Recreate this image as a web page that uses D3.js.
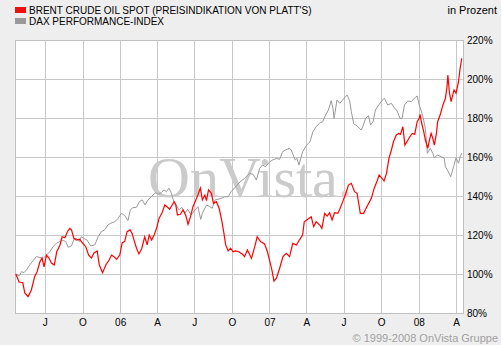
<!DOCTYPE html>
<html><head><meta charset="utf-8">
<script src="https://cdn.jsdelivr.net/npm/d3@7"></script>
<style>html,body{margin:0;padding:0;background:#eeeeee;}svg{display:block;}</style>
</head><body>
<svg id="c" width="501" height="345"></svg>
<script>
const seriesNames = ["BRENT CRUDE OIL SPOT (PREISINDIKATION VON PLATT'S)", "DAX PERFORMANCE-INDEX"];
const xTickLabels = ["J","O","06","A","J","O","07","A","J","O","08","A"];
const yTicks = [80,100,120,140,160,180,200,220];
const yTickLabels = ["80%","100%","120%","140%","160%","180%","200%","220%"];

const brentDates = ["2005-04-21","2005-04-29","2005-05-08","2005-05-13","2005-05-21","2005-05-29","2005-06-06","2005-06-12","2005-06-19","2005-06-24","2005-06-29","2005-07-05","2005-07-11","2005-07-17","2005-07-24","2005-07-30","2005-08-07","2005-08-12","2005-08-19","2005-08-25","2005-08-31","2005-09-04","2005-09-10","2005-09-16","2005-09-24","2005-10-01","2005-10-09","2005-10-16","2005-10-23","2005-10-29","2005-11-06","2005-11-11","2005-11-19","2005-11-27","2005-12-05","2005-12-11","2005-12-17","2005-12-23","2005-12-31","2006-01-06","2006-01-12","2006-01-18","2006-01-25","2006-01-30","2006-02-04","2006-02-10","2006-02-16","2006-02-23","2006-03-02","2006-03-08","2006-03-13","2006-03-19","2006-03-25","2006-03-31","2006-04-06","2006-04-13","2006-04-20","2006-04-27","2006-05-02","2006-05-08","2006-05-13","2006-05-17","2006-05-21","2006-05-28","2006-06-04","2006-06-10","2006-06-16","2006-06-22","2006-06-28","2006-07-05","2006-07-10","2006-07-16","2006-07-21","2006-07-27","2006-07-31","2006-08-05","2006-08-12","2006-08-17","2006-08-24","2006-08-31","2006-09-06","2006-09-11","2006-09-16","2006-09-22","2006-09-28","2006-10-04","2006-10-10","2006-10-18","2006-10-27","2006-11-01","2006-11-08","2006-11-12","2006-11-18","2006-11-26","2006-12-02","2006-12-10","2006-12-20","2006-12-27","2007-01-02","2007-01-07","2007-01-12","2007-01-18","2007-01-26","2007-02-03","2007-02-11","2007-02-19","2007-02-27","2007-03-08","2007-03-15","2007-03-23","2007-03-27","2007-04-07","2007-04-13","2007-04-19","2007-04-25","2007-05-04","2007-05-09","2007-05-16","2007-05-22","2007-05-28","2007-06-03","2007-06-09","2007-06-17","2007-06-21","2007-06-29","2007-07-08","2007-07-13","2007-07-20","2007-07-28","2007-08-03","2007-08-07","2007-08-11","2007-08-19","2007-08-27","2007-09-07","2007-09-14","2007-09-22","2007-09-26","2007-10-03","2007-10-08","2007-10-14","2007-10-20","2007-10-26","2007-10-31","2007-11-07","2007-11-13","2007-11-17","2007-11-23","2007-11-28","2007-12-04","2007-12-10","2007-12-16","2007-12-22","2007-12-28","2008-01-02","2008-01-04","2008-01-08","2008-01-13","2008-01-17","2008-01-23","2008-01-27","2008-01-31","2008-02-04","2008-02-08","2008-02-13","2008-02-16","2008-02-22","2008-02-29","2008-03-06","2008-03-10","2008-03-12","2008-03-16","2008-03-20","2008-03-27","2008-04-01","2008-04-07","2008-04-11","2008-04-15"];
const brentValues = [100.0,95.9,95.5,90.3,88.4,91.8,98.6,101.2,106.3,108.2,103.7,109.7,108.2,105.6,104.6,111.4,114.9,119.1,118.6,121.7,123.4,122.6,118.3,117.4,117.8,115.9,114.0,109.7,108.2,110.8,111.8,104.6,100.7,104.6,107.2,109.7,108.9,107.5,109.7,116.1,116.6,121.7,122.6,120.9,117.4,113.2,110.3,113.2,119.1,114.9,120.0,117.4,120.0,123.4,128.5,131.1,135.4,134.2,133.2,135.4,137.1,135.4,130.3,130.6,132.8,130.3,125.5,129.4,134.5,138.0,140.5,144.0,138.0,140.5,137.6,143.1,141.4,136.3,137.1,133.7,127.7,121.7,114.9,111.8,113.2,111.4,111.8,111.4,110.1,108.9,112.3,110.6,108.0,114.0,119.1,116.6,115.4,111.4,106.3,102.0,96.4,97.9,103.1,108.9,110.6,108.9,115.7,114.9,117.4,120.0,126.8,128.5,129.4,124.3,126.8,125.1,123.4,131.1,129.7,131.4,127.7,131.4,131.1,132.8,137.1,142.2,145.6,146.5,142.2,141.4,136.3,131.1,131.1,134.5,138.8,144.0,148.2,150.8,149.1,147.7,151.6,159.3,163.6,167.8,171.3,172.1,171.6,175.5,166.1,168.2,170.4,172.1,171.6,178.1,179.8,181.9,177.3,173.0,168.7,164.5,168.7,172.1,169.6,166.1,172.1,178.1,181.5,186.7,190.1,196.1,202.0,192.7,188.4,194.4,192.7,198.6,205.5,210.6];

const daxDates = ["2005-04-21","2005-04-29","2005-05-05","2005-05-11","2005-05-17","2005-05-25","2005-06-02","2005-06-10","2005-06-17","2005-06-27","2005-07-05","2005-07-13","2005-07-21","2005-07-29","2005-08-06","2005-08-14","2005-08-21","2005-08-27","2005-09-04","2005-09-10","2005-09-16","2005-09-23","2005-09-28","2005-10-04","2005-10-12","2005-10-21","2005-10-31","2005-11-08","2005-11-16","2005-11-24","2005-12-02","2005-12-09","2005-12-19","2005-12-27","2006-01-04","2006-01-12","2006-01-20","2006-01-26","2006-02-01","2006-02-10","2006-02-17","2006-02-24","2006-03-03","2006-03-10","2006-03-20","2006-03-28","2006-04-05","2006-04-12","2006-04-18","2006-04-24","2006-04-30","2006-05-05","2006-05-12","2006-05-18","2006-05-25","2006-06-01","2006-06-08","2006-06-15","2006-06-23","2006-07-03","2006-07-10","2006-07-17","2006-07-21","2006-07-31","2006-08-08","2006-08-14","2006-08-21","2006-08-28","2006-09-05","2006-09-13","2006-09-22","2006-09-29","2006-10-09","2006-10-16","2006-10-24","2006-11-01","2006-11-09","2006-11-14","2006-11-22","2006-11-30","2006-12-08","2006-12-15","2006-12-22","2007-01-02","2007-01-09","2007-01-18","2007-01-26","2007-02-02","2007-02-09","2007-02-19","2007-02-23","2007-03-05","2007-03-09","2007-03-14","2007-03-23","2007-04-02","2007-04-10","2007-04-17","2007-04-25","2007-05-03","2007-05-11","2007-05-18","2007-05-25","2007-06-01","2007-06-05","2007-06-08","2007-06-15","2007-06-22","2007-07-02","2007-07-10","2007-07-16","2007-07-20","2007-07-26","2007-08-03","2007-08-13","2007-08-17","2007-08-24","2007-08-31","2007-09-05","2007-09-11","2007-09-17","2007-09-25","2007-10-04","2007-10-09","2007-10-17","2007-10-26","2007-11-02","2007-11-09","2007-11-16","2007-11-21","2007-11-27","2007-12-05","2007-12-14","2007-12-21","2007-12-28","2008-01-02","2008-01-07","2008-01-11","2008-01-17","2008-01-22","2008-01-29","2008-02-04","2008-02-08","2008-02-15","2008-02-25","2008-03-03","2008-03-06","2008-03-11","2008-03-19","2008-03-26","2008-04-01","2008-04-07","2008-04-11","2008-04-15"];
const daxValues = [100.0,99.0,101.2,100.7,102.1,104.6,106.8,108.9,108.6,108.0,109.7,111.4,114.0,115.7,116.6,117.4,116.6,113.7,114.4,117.8,118.3,116.6,119.1,118.3,117.4,114.4,114.9,119.1,121.7,122.6,125.1,126.0,126.8,128.5,131.1,130.0,127.4,133.0,134.0,134.2,137.1,138.0,135.4,138.0,140.0,141.7,141.0,141.7,143.1,142.2,144.0,142.2,137.1,135.4,132.8,134.2,131.1,133.2,130.3,132.8,134.5,128.0,131.1,135.4,134.5,133.7,138.0,138.3,138.8,139.6,139.6,142.2,144.4,146.1,147.8,149.0,150.8,151.6,151.1,148.2,154.2,155.9,155.0,157.6,158.5,159.3,158.8,162.7,163.6,164.5,163.6,158.5,159.3,155.9,162.7,166.1,167.8,172.9,175.5,177.3,178.1,181.5,184.1,188.9,185.0,179.8,189.2,187.5,190.1,191.8,188.8,183.3,177.0,176.0,173.8,175.5,179.8,181.2,176.4,178.1,184.1,186.7,189.2,190.1,186.7,187.5,185.3,183.6,179.8,179.8,186.7,188.7,188.4,190.1,191.3,186.7,183.6,180.7,174.7,161.9,164.5,161.9,159.6,161.0,160.2,159.3,155.0,153.3,149.9,155.0,159.6,156.8,160.2,161.9];

const parse = d3.timeParse("%Y-%m-%d");
const svg = d3.select("#c");
const L = 15, R = 463, T = 40, B = 313;
const x = d3.scaleTime().domain([parse("2005-04-19"), parse("2008-04-18")]).range([L, R]);
const y = d3.scaleLinear().domain([80, 220]).range([B, T]);
const font = "'Liberation Sans', Arial, sans-serif";
const px = v => Math.round(v) + 0.5;

// plot background
svg.append("rect").attr("x", L + 0.5).attr("y", T + 0.5).attr("width", R - L).attr("height", B - T)
  .attr("fill", "#ffffff");

// grid
const xTicks = d3.timeMonth.every(3).range(x.domain()[0], x.domain()[1]);
svg.append("g").selectAll("line").data(xTicks).join("line")
  .attr("x1", d => px(x(d))).attr("x2", d => px(x(d)))
  .attr("y1", T).attr("y2", B).attr("stroke", "#c8c8c8").attr("stroke-width", 1);
svg.append("g").selectAll("line").data(yTicks).join("line")
  .attr("x1", L).attr("x2", R).attr("y1", d => px(y(d))).attr("y2", d => px(y(d)))
  .attr("stroke", "#c8c8c8").attr("stroke-width", 1);

// watermark
const wm = svg.append("text").attr("x", 148).attr("y", 197)
  .attr("font-family", "'Liberation Serif', 'Times New Roman', serif").attr("font-size", 58)
  .attr("fill", "#cbcbcb");
wm.append("tspan").text("OnVista");
wm.append("tspan").attr("fill", "#f2cccc").text(".");

// border
svg.append("rect").attr("x", L + 0.5).attr("y", T + 0.5).attr("width", R - L).attr("height", B - T)
  .attr("fill", "none").attr("stroke", "#c0c0c0");

// lines
const line = d3.line().x(d => x(d[0])).y(d => y(d[1]));
const dax = daxDates.map((d, i) => [parse(d), daxValues[i]]);
const brent = brentDates.map((d, i) => [parse(d), brentValues[i]]);
svg.append("path").datum(dax).attr("d", line).attr("fill", "none")
  .attr("stroke", "#999999").attr("stroke-width", 1);
svg.append("path").datum(brent).attr("d", line).attr("fill", "none")
  .attr("stroke", "#ff0000").attr("stroke-width", 1.2);

// x labels
svg.append("g").selectAll("text").data(xTicks).join("text")
  .attr("x", d => x(d) + 0.5).attr("y", 326).attr("text-anchor", "middle")
  .attr("font-family", font).attr("font-size", 10).attr("fill", "#000")
  .text((d, i) => xTickLabels[i]);

// y labels
svg.append("g").selectAll("text").data(yTicks).join("text")
  .attr("x", 467).attr("y", d => y(d) + 4).attr("text-anchor", "start")
  .attr("font-family", font).attr("font-size", 10).attr("fill", "#000")
  .text((d, i) => yTickLabels[i]);

// legend
const legColors = ["#ee1111", "#999999"];
const lg = svg.append("g").selectAll("g").data(seriesNames).join("g")
  .attr("transform", (d, i) => `translate(0,${i * 11})`);
lg.append("rect").attr("x", 15).attr("y", 7).attr("width", 11).attr("height", 6)
  .attr("fill", (d, i) => legColors[i]);
lg.append("text").attr("x", 29).attr("y", 13.5).attr("font-family", font).attr("font-size", 10)
  .attr("fill", "#000").text(d => d);

svg.append("text").attr("x", 497).attr("y", 13.5).attr("text-anchor", "end")
  .attr("font-family", font).attr("font-size", 11).attr("fill", "#000").text("in Prozent");

svg.append("text").attr("x", 498).attr("y", 342).attr("text-anchor", "end")
  .attr("font-family", font).attr("font-size", 11).attr("fill", "#a0a0a0").text("© 1999-2008 OnVista Gruppe");
</script>
</body></html>
